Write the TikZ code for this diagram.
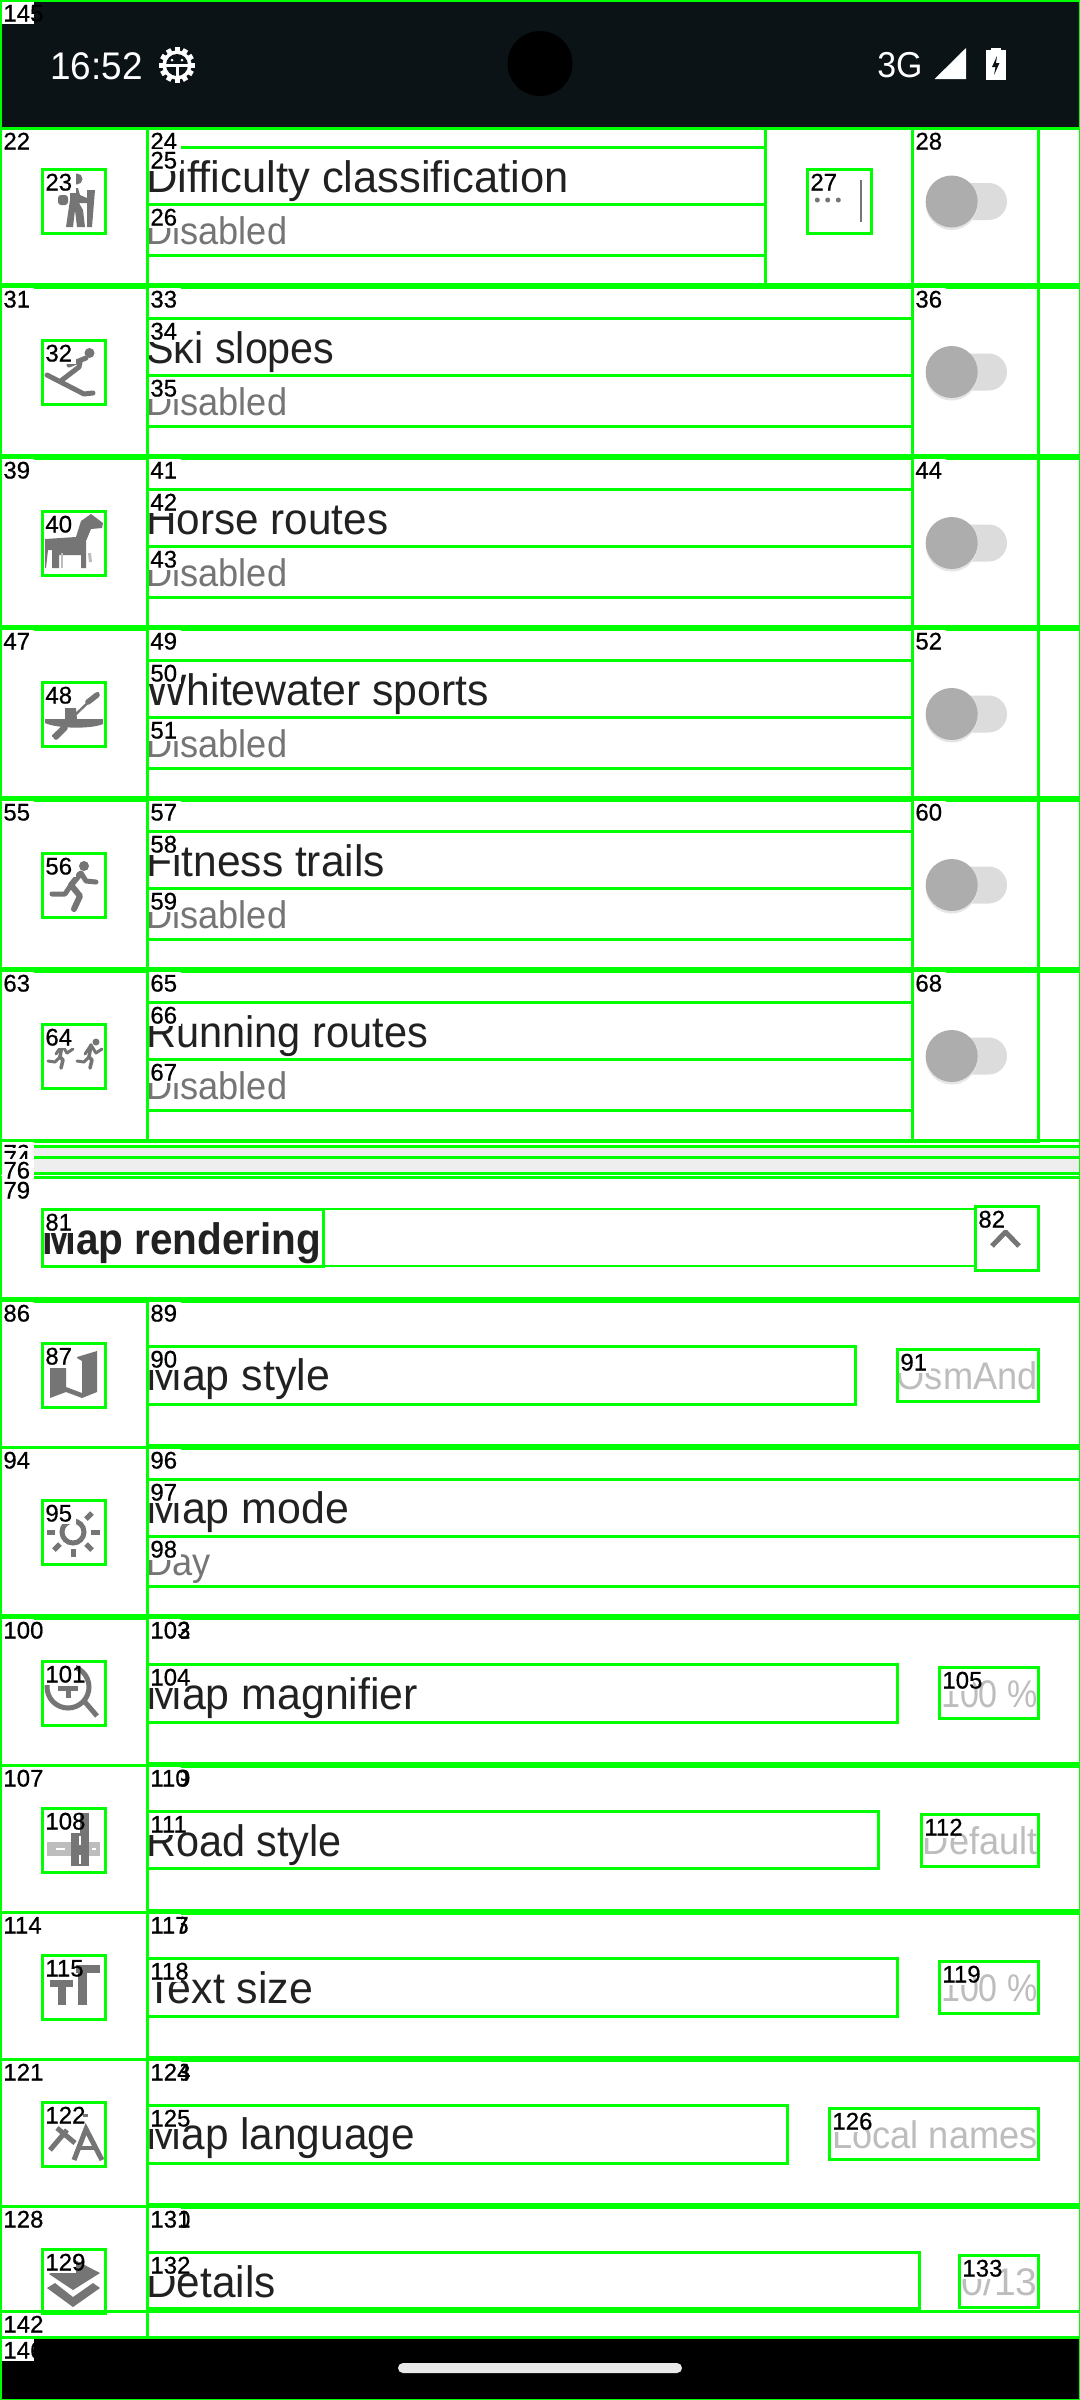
\documentclass[tikz,border=0pt]{standalone}
\usepackage{fontspec}
\setmainfont{Liberation Sans}
\newfontfamily\robt[FakeStretch=0.985]{Liberation Sans}
\newfontfamily\robs[FakeStretch=0.94]{Liberation Sans}
\newfontfamily\robb[FakeStretch=0.92]{Liberation Sans}
\newfontfamily\robl[FakeBold=0.6]{Liberation Sans}
\newcommand{\hsq}[2]{\scalebox{#1}[1]{#2}}
\definecolor{boxgreen}{HTML}{00FF00}
\definecolor{barbg}{HTML}{0B1316}
\definecolor{ink}{HTML}{212121}
\definecolor{mute}{HTML}{757575}
\definecolor{faint}{HTML}{BDBDBD}
\definecolor{thumb}{HTML}{ADADAD}
\definecolor{track}{HTML}{DCDCDC}
\definecolor{divider}{HTML}{EEEEEE}
\definecolor{pill}{HTML}{E8E8E8}
\tikzset{
  title/.style={anchor=base west,inner sep=0pt,text=ink,font=\robt\fontsize{22}{24}\selectfont},
  sub/.style={anchor=base west,inner sep=0pt,text=mute,font=\robs\fontsize{19.25}{22}\selectfont},
  val/.style={anchor=base east,inner sep=0pt,text=faint,font=\robs\fontsize{19.25}{22}\selectfont},
  head/.style={anchor=base west,inner sep=0pt,text=ink,font=\robb\bfseries\fontsize{22}{24}\selectfont},
  bartext/.style={anchor=base west,inner sep=0pt,text=white,font=\robs\fontsize{19.25}{22}\selectfont},
  idlabel/.style={anchor=base west,inner sep=0pt,text=black,font=\robl\fontsize{12}{14}\selectfont},
  gbox/.style={draw=boxgreen,line width=1.5pt},
  ic/.style={fill=mute,draw=none},
  icl/.style={draw=mute,line cap=round,line join=round}
}
% id / x1 / y1 / x2 / y2
\def\boxlist{145/0/0/1080/128,
22/0/128/147/286,23/42/169/105/233,24/147/128/765/286,25/147/147/765/204,26/147/204/765/255,27/807/169/871/233,28/912/128/1038/286,
31/0/286/147/457,32/42/340/105/404,33/147/286/912/457,34/147/318/912/375,35/147/375/912/426,36/912/286/1038/457,
39/0/457/147/628,40/42/511/105/575,41/147/457/912/628,42/147/489/912/546,43/147/546/912/597,44/912/457/1038/628,
47/0/628/147/799,48/42/682/105/746,49/147/628/912/799,50/147/660/912/717,51/147/717/912/768,52/912/628/1038/799,
55/0/799/147/970,56/42/853/105/917,57/147/799/912/970,58/147/831/912/888,59/147/888/912/939,60/912/799/1038/970,
63/0/970/147/1141,64/42/1024/105/1088,65/147/970/912/1141,66/147/1002/912/1059,67/147/1059/912/1110,68/912/970/1038/1141,
73/0/1140/1080/1146,74/0/1146/1080/1157,76/0/1157/1080/1173,
79/0/1177/1080/1300,81/42/1209/323/1266,82/975/1206/1038/1270,
86/0/1300/147/1447,87/42/1343/105/1407,89/147/1300/1080/1447,90/147/1346/855/1404,91/897/1349/1038/1401,
94/0/1447/147/1617,95/42/1500/105/1564,96/147/1447/1080/1617,97/147/1479/1080/1536,98/147/1536/1080/1586,
100/0/1617/147/1765,101/42/1661/105/1725,102/147/1617/1080/1765,103/147/1617/1080/1765,104/147/1664/897/1722,105/939/1667/1038/1718,
107/0/1765/147/1912,108/42/1808/105/1872,109/147/1765/1080/1912,110/147/1765/1080/1912,111/147/1811/878/1868,112/921/1814/1038/1866,
114/0/1912/147/2059,115/42/1955/105/2019,116/147/1912/1080/2059,117/147/1912/1080/2059,118/147/1958/897/2016,119/939/1961/1038/2013,
121/0/2059/147/2206,122/42/2102/105/2166,123/147/2059/1080/2206,124/147/2059/1080/2206,125/147/2105/787/2163,126/829/2108/1038/2159,
128/0/2206/147/2337,129/42/2249/105/2313,130/147/2206/1080/2337,131/147/2206/1080/2337,132/147/2252/919/2308,133/959/2255/1038/2307,
142/0/2311/1080/2337,146/0/2337/1080/2400}
\begin{document}
\begin{tikzpicture}[x=0.5pt,y=-0.5pt]
\useasboundingbox (0,0) rectangle (1080,2400);
\fill[white] (0,0) rectangle (1080,2400);
% status and navigation bars
\fill[barbg] (0,0) rectangle (1080,128);
\fill[black] (0,2337) rectangle (1080,2400);
\fill[black] (540,63.5) circle[radius=32.5];
\fill[pill,rounded corners=2.5pt] (398,2363) rectangle (682,2373);
\node[bartext] (time) at (50,79) {\hsq{1.02}{16:52}};
\begin{scope}[shift={(177,65)}]
  \foreach \t in {0,30,...,330}{\fill[white,rotate=\t] (-2.5,-18) rectangle (2.5,0);}
  \fill[white] (0,0) circle[radius=14.5];
  \fill[barbg] (0,0) circle[radius=11];
  \fill[white] (-12,-1.5) rectangle (12,1.5);
  \fill[white] (-1.5,0) rectangle (1.5,12);
  \fill[white] (-5,-5) circle[radius=1.5];
  \fill[white] (5,-5) circle[radius=1.5];
\end{scope}
\node[bartext,font=\robs\fontsize{18}{20}\selectfont] (net) at (877,77) {3G};
\fill[white] (966,48) -- (966,79) -- (934.6,79) -- cycle;
\fill[white] (986,50) rectangle (1005.5,80);
\fill[white] (991,48) rectangle (1001,51);
\fill[barbg] (997,56) -- (992,67) -- (995.5,67) -- (994,75) -- (999.5,63) -- (996,63) -- cycle;
% dividers
\fill[divider] (0,1146) rectangle (1080,1173);
% toggles
\foreach \cy in {201.5,372,543,714,885,1056}{
  \fill[track,rounded corners=9.2pt] (945,\cy-18.5) rectangle (1007,\cy+18.5);
  \fill[black!10] (951.7,\cy+2.5) circle[radius=26];
  \fill[thumb] (951.7,\cy) circle[radius=26];
}
% texts
\node[title] (t25) at (146,192.5) {\hsq{1.004}{Difficulty classification}};
\node[sub] (s26) at (146,244) {Disabled};
\node[title] (t34) at (146,363.5) {\hsq{0.953}{Ski slopes}};
\node[sub] (s35) at (146,415) {Disabled};
\node[title] (t42) at (146,534.5) {\hsq{0.975}{Horse routes}};
\node[sub] (s43) at (146,586) {Disabled};
\node[title] (t50) at (146,705.5) {\hsq{0.987}{Whitewater sports}};
\node[sub] (s51) at (146,757) {Disabled};
\node[title] (t58) at (146,876.5) {\hsq{0.98}{Fitness trails}};
\node[sub] (s59) at (146,928) {Disabled};
\node[title] (t66) at (146,1047.5) {\hsq{0.958}{Running routes}};
\node[sub] (s67) at (146,1099) {Disabled};
\node[head] (t81) at (42,1254) {Map rendering};
\node[title] (t90) at (146,1390.5) {\hsq{0.99}{Map style}};
\node[val] (v91) at (1038,1389) {OsmAnd};
\node[title] (t97) at (146,1523.5) {\hsq{0.99}{Map mode}};
\node[sub] (s98) at (146,1575) {Day};
\node[title] (t104) at (146,1709.5) {\hsq{0.989}{Map magnifier}};
\node[val] (v105) at (1038,1707) {\hsq{0.94}{100 \%}};
\node[title] (t111) at (146,1856.5) {\hsq{0.955}{Road style}};
\node[val] (v112) at (1038,1854) {Default};
\node[title] (t118) at (146,2003.5) {\hsq{0.99}{Text size}};
\node[val] (v119) at (1038,2001) {\hsq{0.94}{100 \%}};
\node[title] (t125) at (146,2149.5) {\hsq{0.977}{Map language}};
\node[val] (v126) at (1038,2148) {Local names};
\node[title] (t132) at (146,2297.5) {\hsq{0.976}{Details}};
\node[val] (v133) at (1038,2295) {\hsq{1.08}{0/13}};
% icon: hiker
\begin{scope}[shift={(42,169)}]
  \fill[ic] (35,10) circle[radius=5.5];
  \fill[ic,rounded corners=1.5pt] (16,26) rectangle (26,36);
  \fill[ic] (28,19) -- (36,19) -- (38,26) -- (45,29) -- (45,34) -- (37,34) -- (41,41) -- (43,58) -- (35,58) -- (33,41) -- (31,58) -- (24,58) -- (28,31) -- cycle;
  \fill[ic] (45,21) -- (53,21) -- (50,58) -- (45,58) -- cycle;
\end{scope}
% icon: skier
\begin{scope}[shift={(42,340)}]
  \fill[ic] (47.5,13) circle[radius=5];
  \draw[icl,line width=2.5pt] (5,35) -- (42,54) -- (51,53);
  \draw[icl,line width=2.5pt] (27,25) -- (44,18);
  \draw[icl,line width=2.5pt] (20,40) -- (37,27) -- (38,22);
\end{scope}
% icon: horse
\begin{scope}[shift={(42,511)}]
  \fill[ic] (3,28) -- (34,26) -- (39,10) -- (49,3) -- (61,12) -- (60,17) -- (49,18) -- (44,30) -- (44,57) -- (39,57) -- (39,44) -- (17,44) -- (17,57) -- (10,57) -- (10,39) -- (6,39) -- (4,57) -- (3,57) -- cycle;
  \fill[faint] (19,42) rectangle (21,57);
  \fill[faint] (46,42) -- (49,42) -- (50,51) -- (47,51) -- cycle;
\end{scope}
% icon: kayak
\begin{scope}[shift={(42,682)}]
  \fill[ic] (3,37) -- (61,37) -- (61,42) .. controls (50,47) and (16,47) .. (3,41) -- cycle;
  \draw[icl,line width=1.2pt] (56,11) -- (11,54);
  \draw[icl,line width=2.8pt] (46,20) -- (55,13);
  \draw[icl,line width=2.8pt] (14,55) -- (23,46);
  \fill[ic] (23,26) -- (34,26) -- (35,37) -- (23,37) -- cycle;
\end{scope}
% icon: fitness runner
\begin{scope}[shift={(42,853)}]
  \fill[ic] (42,13) circle[radius=5];
  \draw[icl,line width=2.5pt] (39,20) -- (44,28) -- (54,29);
  \draw[icl,line width=3pt] (38,21) -- (29,32) -- (38,43) -- (32,56);
  \draw[icl,line width=2.5pt] (29,32) -- (23,41) -- (10,41);
\end{scope}
% icon: running routes
\begin{scope}[shift={(42,1024)}]
  \foreach \dx in {0,-29}{
    \fill[ic] (54+\dx,18) circle[radius=3.5];
    \draw[icl,line width=1.5pt] (43+\dx,30) -- (49+\dx,21) -- (54+\dx,29) -- (60+\dx,25);
    \draw[icl,line width=1.8pt] (49+\dx,21) -- (47+\dx,33) -- (50+\dx,36) -- (48+\dx,44);
    \draw[icl,line width=1.5pt] (47+\dx,33) -- (42+\dx,38) -- (35+\dx,37);
  }
\end{scope}
% icon: dots and bar
\fill[mute] (817.3,200) circle[radius=2.5] (827.7,200) circle[radius=2.5] (838.3,200) circle[radius=2.5];
\fill[mute] (859.5,180) rectangle (862,221.7);
% chevron
\draw[icl,line cap=butt,line join=miter,line width=2.5pt] (992,1246) -- (1005.5,1232) -- (1019,1246);
% icon: map
\begin{scope}[shift={(42,1343)}]
  \fill[ic] (8,25) -- (24,25) -- (24,44) -- (40,50) -- (40,18) -- (35,15) -- (35,14) -- (55,8) -- (55,49) -- (40,55) -- (24,49) -- (8,55) -- cycle;
\end{scope}
% icon: sun
\begin{scope}[shift={(42,1500)}]
  \draw[mute,line width=2.5pt] (31,32) circle[radius=11];
  \fill[mute] (5,29.5) rectangle (13,34.5);
  \fill[mute] (49,29.5) rectangle (58,34.5);
  \fill[mute] (28.5,49) rectangle (33.5,57);
  \draw[mute,line width=2.5pt] (44,19) -- (50,13);
  \draw[mute,line width=2.5pt] (44,44) -- (50,50);
  \draw[mute,line width=2.5pt] (18,44) -- (12,50);
\end{scope}
% icon: magnifier
\begin{scope}[shift={(42,1661)}]
  \draw[mute,line width=2.5pt] (26,26) circle[radius=21];
  \fill[mute] (16,25) rectangle (36,30);
  \fill[mute] (24,30) rectangle (29,37);
  \draw[mute,line width=2.5pt] (43,41) -- (55,55);
\end{scope}
% icon: road
\begin{scope}[shift={(42,1808)}]
  \fill[faint] (5,34) rectangle (58,48);
  \fill[white] (14,40) rectangle (23,42);
  \fill[white] (50,40) rectangle (54,42);
  \fill[mute] (38,5) rectangle (47,25);
  \fill[mute] (29,25) rectangle (47,58);
  \fill[white] (37,28) rectangle (39,37);
  \fill[white] (37,47) rectangle (39,56);
\end{scope}
% icon: text size
\begin{scope}[shift={(42,1955)}]
  \fill[mute] (8,25) rectangle (31,32);
  \fill[mute] (16,32) rectangle (24,50);
  \fill[mute] (31,10) rectangle (58,18);
  \fill[mute] (36,18) rectangle (45,50);
\end{scope}
% icon: translate
\begin{scope}[shift={(42,2102)}]
  \fill[mute] (41,12) rectangle (46,15);
  \draw[mute,line width=2.5pt] (8,48) -- (25,28);
  \draw[mute,line width=2.5pt] (15,26) -- (33,41);
  \draw[mute,line width=2.5pt,line join=miter] (32,58) -- (44,27) -- (60,58);
  \draw[mute,line width=2pt] (37,46) -- (55,46);
\end{scope}
% icon: layers
\begin{scope}[shift={(42,2249)}]
  \fill[ic] (7,25) -- (33,11) -- (58,24) -- (31,41) -- cycle;
  \fill[ic] (5,39) -- (13,34) -- (31,48) -- (51,34) -- (58,39) -- (31,58) -- cycle;
\end{scope}
% unlabelled boxes
\foreach \a/\b/\c/\d in {0/128/1080/286,0/286/1080/457,0/457/1080/628,0/628/1080/799,0/799/1080/970,0/970/1080/1141,0/1173/1080/1177,42/1209/975/1266}{
  \draw[gbox,line width=1.25pt] (\a,\b) rectangle (\c,\d);
}
% annotation boxes
\foreach \i/\a/\b/\c/\d in \boxlist{
  \draw[gbox] (\a,\b) rectangle (\c,\d);
}
% doubled edges between rows read as thicker rules
\foreach \a/\b in {0/286,0/457,0/628,0/799,0/970,0/1300,147/1447,0/1617,147/1765,147/1912,147/2059,147/2206}{
  \fill[boxgreen] (\a,\b-3) rectangle (1080,\b+2.5);
}
% number tags
\fill[white] (1.5,1173.5) rectangle (34,1178);
\foreach \i/\a/\b/\c/\d in \boxlist{
  \fill[white] (\a+1.5,\b+1.5) rectangle (\a+34,\b+24);
  \node[idlabel] (tag\i) at (\a+3,\b+21.5) {\i};
}
\end{tikzpicture}
\end{document}
